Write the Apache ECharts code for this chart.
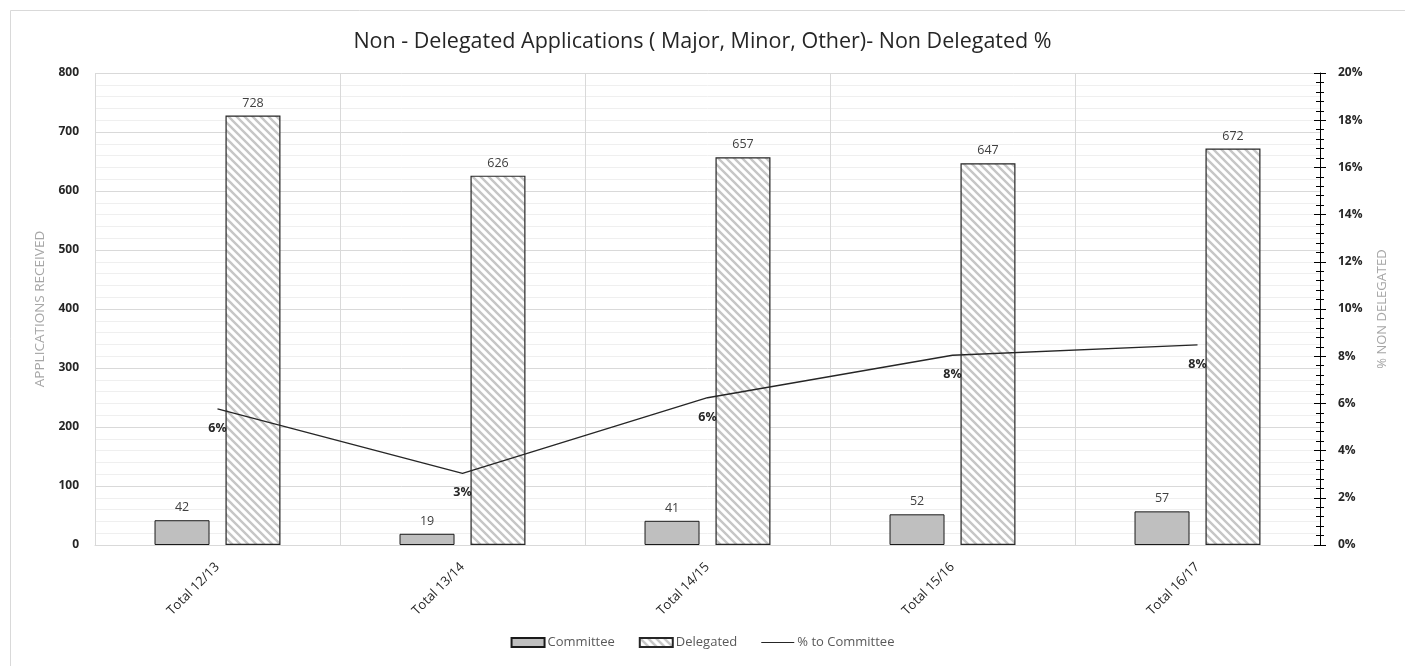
<!DOCTYPE html>
<html>
<head>
<meta charset="utf-8">
<script src="https://cdn.jsdelivr.net/npm/echarts@6/dist/echarts.min.js"></script>
<style>html,body{margin:0;padding:0;background:#fff}#c{width:1405px;height:666px}</style>
</head>
<body>
<div id="c"></div>
<script>
const categories = ['Total 12/13', 'Total 13/14', 'Total 14/15', 'Total 15/16', 'Total 16/17'];
const committee = [42, 19, 41, 52, 57];
const delegated = [728, 626, 657, 647, 672];
const pctToCommittee = [0.0577, 0.0304, 0.0624, 0.0804, 0.0848];
const seriesNames = ['Committee', 'Delegated', '% to Committee'];
const titleText = 'Non - Delegated Applications ( Major, Minor, Other)- Non Delegated %';

const FONT = '"Open Sans", "Noto Sans", sans-serif';

// hatch pattern
const pc = document.createElement('canvas');
pc.width = 8; pc.height = 8;
const g = pc.getContext('2d');
g.fillStyle = '#ffffff'; g.fillRect(0, 0, 8, 8);
g.strokeStyle = '#c6c6c6'; g.lineWidth = 2.4;
g.beginPath();
g.moveTo(-2, -2); g.lineTo(10, 10);
g.moveTo(-2, 6); g.lineTo(2, 10);
g.moveTo(6, -2); g.lineTo(10, 2);
g.stroke();

const chart = echarts.init(document.getElementById('c'), null, {renderer: 'canvas'});
chart.setOption({
  backgroundColor: '#fff',
  animation: false,
  graphic: [{type: 'rect', shape: {x: 10.5, y: 10.5, width: 1500, height: 900}, style: {fill: 'none', stroke: '#d9d9d9', lineWidth: 1}, silent: true}],
  title: {text: titleText, left: 'center', top: 26, textStyle: {fontFamily: FONT, fontSize: 21.5, fontWeight: 'normal', color: '#262626'}},
  legend: {
    bottom: 12, left: 'center', itemGap: 24, itemWidth: 33, itemHeight: 9,
    textStyle: {fontFamily: FONT, fontSize: 13, color: '#595959', padding: [0, 0, 0, -2]},
    data: [
      {name: seriesNames[0], icon: 'rect'},
      {name: seriesNames[1], icon: 'rect'},
      {name: seriesNames[2], icon: 'path://M0,0M40,10M0,4.4L40,4.4L40,5.6L0,5.6Z', itemStyle: {color: '#262626'}}
    ]
  },
  grid: {left: 95, right: 85, top: 73, bottom: 121, containLabel: false},
  xAxis: {
    type: 'category', data: categories,
    axisLine: {lineStyle: {color: '#d9d9d9'}},
    axisTick: {show: false},
    splitLine: {show: true, lineStyle: {color: '#d9d9d9'}},
    axisLabel: {rotate: 45, fontFamily: FONT, fontSize: 13, color: '#262626', margin: 20}
  },
  yAxis: [{
    type: 'value', min: 0, max: 800, interval: 100,
    name: 'APPLICATIONS RECEIVED', nameLocation: 'middle', nameGap: 48,
    nameTextStyle: {fontFamily: FONT, fontSize: 13.5, color: '#a6a6a6'},
    axisLine: {show: false}, axisTick: {show: false},
    axisLabel: {fontFamily: FONT, fontSize: 12, fontWeight: 'bold', color: '#262626', margin: 16},
    splitLine: {lineStyle: {color: '#d9d9d9'}},
    minorTick: {show: false, splitNumber: 5},
    minorSplitLine: {show: true, lineStyle: {color: '#efefef'}}
  }, {
    type: 'value', min: 0, max: 0.2, interval: 0.02,
    name: '% NON DELEGATED', nameLocation: 'middle', nameGap: 56,
    nameTextStyle: {fontFamily: FONT, fontSize: 13, color: '#a6a6a6'},
    axisLine: {show: true, lineStyle: {color: '#000', width: 1}},
    axisTick: {show: true, length: 6, lineStyle: {color: '#000'}},
    minorTick: {show: true, splitNumber: 5, length: 4, lineStyle: {color: '#000'}},
    axisLabel: {fontFamily: FONT, fontSize: 12, fontWeight: 'bold', color: '#262626', margin: 18,
      formatter: v => Math.round(v * 100) + '%'},
    splitLine: {show: false}
  }, {
    type: 'value', min: 0, max: 0.2, interval: 0.02, position: 'right',
    axisLine: {show: false},
    axisTick: {show: true, inside: true, length: 6, lineStyle: {color: '#000'}},
    minorTick: {show: true, splitNumber: 5, length: 4, lineStyle: {color: '#000'}},
    axisLabel: {show: false}, splitLine: {show: false}
  }],
  series: [{
    name: seriesNames[0], type: 'bar', data: committee, barWidth: 55, barGap: '29%',
    itemStyle: {color: '#bfbfbf', borderColor: '#1a1a1a', borderWidth: 1},
    label: {show: true, position: 'top', distance: 6, fontFamily: FONT, fontSize: 12.5, color: '#404040'}
  }, {
    name: seriesNames[1], type: 'bar', data: delegated, barWidth: 55,
    itemStyle: {color: {image: pc, repeat: 'repeat'}, borderColor: '#262626', borderWidth: 1.2},
    label: {show: true, position: 'top', distance: 6, fontFamily: FONT, fontSize: 12.5, color: '#404040'}
  }, {
    name: seriesNames[2], type: 'line', yAxisIndex: 1, data: pctToCommittee,
    symbol: 'circle', symbolSize: 0.1, showSymbol: true,
    lineStyle: {color: '#262626', width: 1.3}, itemStyle: {color: '#262626'},
    label: {show: true, position: 'bottom', distance: 13, fontFamily: FONT, fontSize: 12.5, fontWeight: 'bold', color: '#262626',
      formatter: p => Math.round(p.value * 100) + '%'},
    z: 5
  }]
});
</script>
</body>
</html>
